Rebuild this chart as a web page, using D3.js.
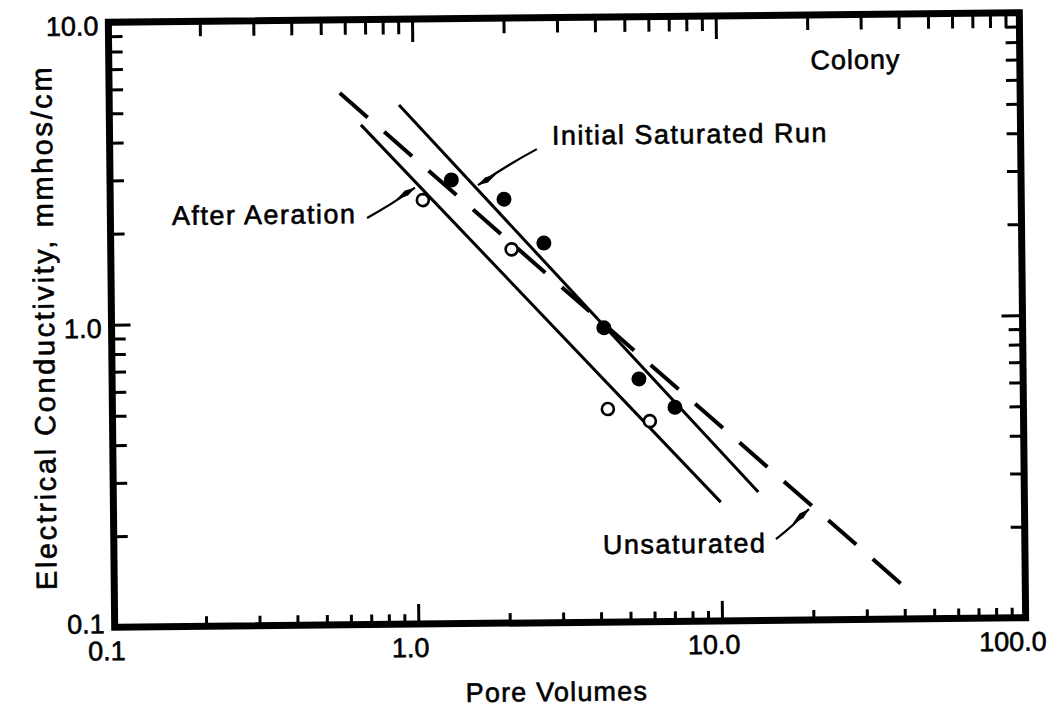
<!DOCTYPE html>
<html>
<head>
<meta charset="utf-8">
<script src="https://cdn.jsdelivr.net/npm/d3@7"></script>
<style>
  html, body { margin: 0; padding: 0; background: #fff; }
  svg { display: block; }
  text { font-family: "Liberation Sans", Arial, Helvetica, sans-serif; fill: #000; stroke: #000; stroke-width: 0.6; }
</style>
</head>
<body>
<svg id="chart" width="1054" height="707"></svg>
<script>
// ---------- data ----------
const xTickValues = [0.1, 1.0, 10.0, 100.0];
const xTickLabels = ["0.1", "1.0", "10.0", "100.0"];
const yTickValues = [0.1, 1.0, 10.0];
const yTickLabels = ["0.1", "1.0", "10.0"];

// Initial saturated run (filled circles)
const initialX = [1.33, 1.98, 2.67, 4.18, 5.43, 7.12];
const initialY = [2.93, 2.52, 1.80, 0.94, 0.635, 0.51];
// After aeration (open circles)
const aeratedX = [1.07, 2.09, 4.28, 5.88];
const aeratedY = [2.52, 1.72, 0.506, 0.46];

// Fitted lines (end points)
const initialFitX = [0.90, 13.3];
const initialFitY = [5.21, 0.266];
const aeratedFitX = [0.673, 10.0];
const aeratedFitY = [4.49, 0.247];
const unsatFitX = [0.575, 40.4];
const unsatFitY = [5.73, 0.1266];

const xTitle = "Pore Volumes";
const yTitle = "Electrical Conductivity, mmhos/cm";
const panelTitle = "Colony";

// annotations: label, text anchor (data), arrow tail and tip (data)
const annLabels = ["Initial Saturated Run", "After Aeration", "Unsaturated"];
const annTextX = [2.86, 0.1594, 4.08];
const annTextY = [3.80, 2.126, 0.168];
const annTailX = [2.55, 0.700, 15.15];
const annTailY = [3.68, 2.21, 0.1857];
const annTipX = [1.627, 1.009, 19.5];
const annTipY = [2.81, 2.77, 0.2328];

// ---------- layout ----------
const X0 = 111.5, X1 = 1022.5, Y0 = 17.5, Y1 = 622.5;
const svg = d3.select("#chart");
const g = svg.append("g").attr("transform", "rotate(-0.6, 567, 320)");

const x = d3.scaleLog().domain([0.1, 100]).range([X0, X1]);
const y = d3.scaleLog().domain([0.1, 10]).range([Y1, Y0]);

const isMajor = v => Math.abs(Math.log10(v) - Math.round(Math.log10(v))) < 1e-9;
const xInner = x.ticks().filter(v => v > 0.1 * 1.0001 && v < 100 * 0.9999);
const yInner = y.ticks().filter(v => v > 0.1 * 1.0001 && v < 10 * 0.9999);
const xMin = xInner.filter(v => !isMajor(v)), xMaj = xInner.filter(isMajor);
const yMin = yInner.filter(v => !isMajor(v)), yMaj = yInner.filter(isMajor);

function tickAxis(axisGen, vals, size, transform) {
  const a = g.append("g").attr("transform", transform)
    .call(axisGen.tickValues(vals).tickSize(size).tickSizeOuter(0).tickFormat(""));
  a.select(".domain").remove();
  a.selectAll(".tick line").attr("stroke", "#000").attr("stroke-width", 3);
}
// bottom (inward = up)
tickAxis(d3.axisBottom(x), xMin, -10, `translate(0,${Y1})`);
tickAxis(d3.axisBottom(x), xMaj, -20, `translate(0,${Y1})`);
// top (inward = down)
tickAxis(d3.axisTop(x), xMin, -15, `translate(0,${Y0})`);
tickAxis(d3.axisTop(x), xMaj, -23, `translate(0,${Y0})`);
// left (inward = right)
tickAxis(d3.axisLeft(y), yMin, -14, `translate(${X0},0)`);
tickAxis(d3.axisLeft(y), yMaj, -19, `translate(${X0},0)`);
// right (inward = left)
tickAxis(d3.axisRight(y), yMin, -14, `translate(${X1},0)`);
tickAxis(d3.axisRight(y), yMaj, -21, `translate(${X1},0)`);

// frame
g.append("rect").attr("x", X0).attr("y", Y0).attr("width", X1 - X0).attr("height", Y1 - Y0)
  .attr("fill", "none").attr("stroke", "#000").attr("stroke-width", 7);

// tick labels
g.selectAll(".xl").data(xTickValues).enter().append("text")
  .attr("x", (d, i) => x(d) - (i === xTickValues.length - 1 ? 13 : 8)).attr("y", Y1 + 33)
  .attr("text-anchor", "middle").attr("font-size", 27)
  .text((d, i) => xTickLabels[i]);
g.selectAll(".yl").data(yTickValues).enter().append("text")
  .attr("x", X0 - 10).attr("y", d => Math.min(y(d) + 13, Y1 + 6))
  .attr("text-anchor", "end").attr("font-size", 27)
  .text((d, i) => yTickLabels[i]);

// axis titles
g.append("text").attr("x", 553).attr("y", 701).attr("text-anchor", "middle")
  .attr("font-size", 27).attr("letter-spacing", 1.2).text(xTitle);
g.append("text").attr("transform", "translate(54,322) rotate(-90)").attr("text-anchor", "middle")
  .attr("font-size", 29).attr("letter-spacing", 2.6).text(yTitle);
g.append("text").attr("x", 813).attr("y", 72).attr("font-size", 27).attr("letter-spacing", 1)
  .text(panelTitle);

// lines
const line = d3.line().x(d => x(d[0])).y(d => y(d[1]));
g.append("path").datum(d3.zip(initialFitX, initialFitY)).attr("d", line)
  .attr("fill", "none").attr("stroke", "#000").attr("stroke-width", 3);
g.append("path").datum(d3.zip(aeratedFitX, aeratedFitY)).attr("d", line)
  .attr("fill", "none").attr("stroke", "#000").attr("stroke-width", 3);
g.append("path").datum(d3.zip(unsatFitX, unsatFitY)).attr("d", line)
  .attr("fill", "none").attr("stroke", "#000").attr("stroke-width", 4)
  .attr("stroke-dasharray", "37,22");

// points
g.selectAll(".pf").data(d3.zip(initialX, initialY)).enter().append("circle")
  .attr("cx", d => x(d[0])).attr("cy", d => y(d[1])).attr("r", 7.5).attr("fill", "#000");
g.selectAll(".po").data(d3.zip(aeratedX, aeratedY)).enter().append("circle")
  .attr("cx", d => x(d[0])).attr("cy", d => y(d[1])).attr("r", 6)
  .attr("fill", "#fff").attr("stroke", "#000").attr("stroke-width", 2.6);

// annotations
annLabels.forEach((lab, i) => {
  g.append("text").attr("x", x(annTextX[i])).attr("y", y(annTextY[i]))
    .attr("font-size", 27).attr("letter-spacing", 1.5).text(lab);
  const tx = x(annTailX[i]), ty = y(annTailY[i]);
  const hx = x(annTipX[i]), hy = y(annTipY[i]);
  const dx = hx - tx, dy = hy - ty, L = Math.hypot(dx, dy);
  const ux = dx / L, uy = dy / L, nx = -uy, ny = ux;
  const mx = (tx + hx) / 2 + nx * 2, my = (ty + hy) / 2 + ny * 2;
  g.append("path").attr("d", `M${tx},${ty}Q${mx},${my} ${hx},${hy}`)
    .attr("fill", "none").attr("stroke", "#000").attr("stroke-width", 2.2);
  const p = (a, b) => [hx - ux * a + nx * b, hy - uy * a + ny * b];
  const pts = [p(0, 0), p(10, 3), p(22, 0), p(10, -3)];
  g.append("path").attr("d", "M" + pts.map(q => q.join(",")).join("L") + "Z").attr("fill", "#000");
});
</script>
</body>
</html>
